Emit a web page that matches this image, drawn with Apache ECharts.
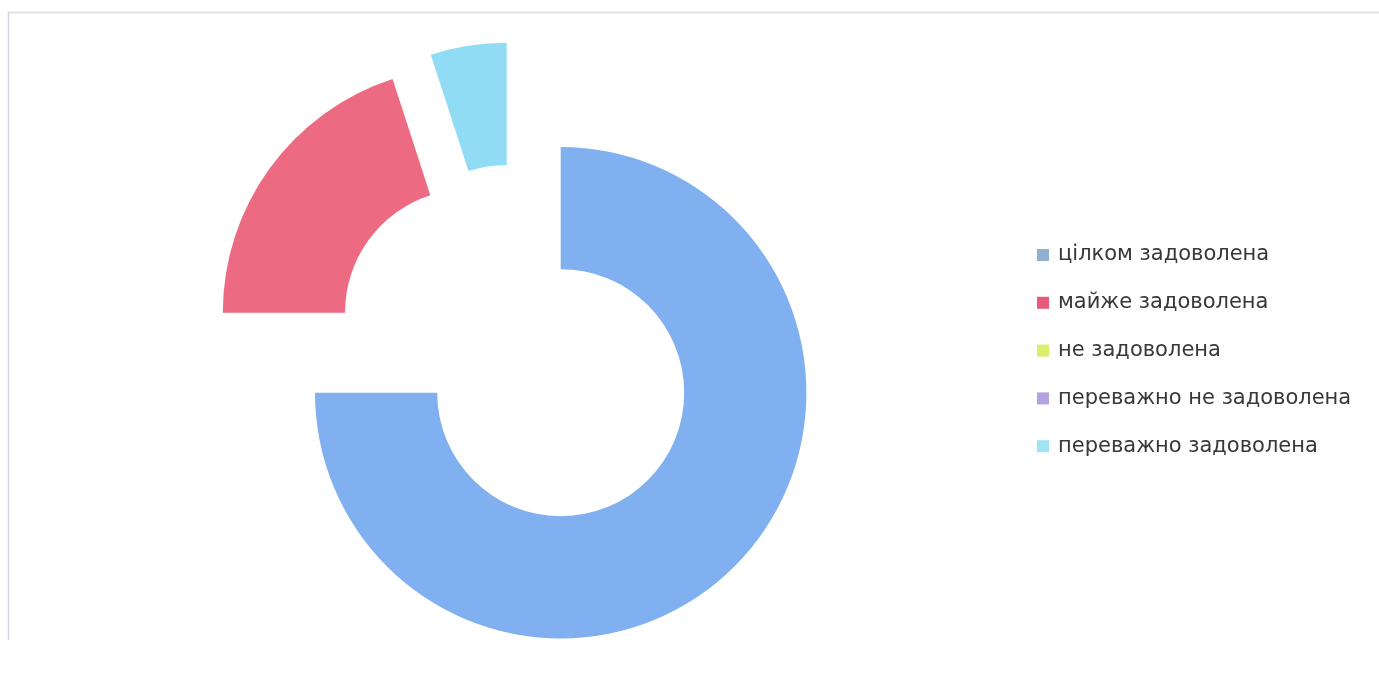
<!DOCTYPE html>
<html>
<head>
<meta charset="utf-8">
<script src="https://cdn.jsdelivr.net/npm/echarts@6/dist/echarts.min.js"></script>
<style>
  html, body { margin: 0; padding: 0; background: #ffffff; }
  #chart { width: 1379px; height: 681px; }
</style>
</head>
<body>
<div id="chart"></div>
<script>
// ---- data ----
const categories = ['цілком задоволена', 'майже задоволена', 'не задоволена', 'переважно не задоволена', 'переважно задоволена'];
const values = [75, 20, 0, 0, 5];

// ---- styles / layout ----
const sliceColors = ['#80b0f0', '#ec6a82', '#d8f06a', '#b4a2e2', '#90dcf4'];
const legendColors = ['#8fb0d0', '#e85a7a', '#d8f06a', '#b4a2e2', '#a0e4f4'];
const baseCenter = [560.7, 392.7];
const radius = [123.5, 245.7];
// explode offsets (px) for each drawn slice
const explode = { 0: [0, 0], 1: [-92.2, -80], 4: [-54, -104.3] };

const series = Object.keys(explode).map(function (k) {
  const own = +k;
  return {
    type: 'pie',
    center: [baseCenter[0] + explode[k][0], baseCenter[1] + explode[k][1]],
    radius: radius,
    startAngle: 90,
    clockwise: true,
    silent: true,
    animation: false,
    avoidLabelOverlap: false,
    label: { show: false },
    labelLine: { show: false },
    emphasis: { disabled: true },
    itemStyle: { borderWidth: 0 },
    data: categories.map(function (name, i) {
      return {
        name: name,
        value: values[i],
        itemStyle: { color: sliceColors[i], opacity: i === own ? 1 : 0 }
      };
    })
  };
});

const chart = echarts.init(document.getElementById('chart'), null, { renderer: 'canvas' });
chart.setOption({
  backgroundColor: '#ffffff',
  animation: false,
  legend: {
    orient: 'vertical',
    left: 1032,
    top: 238,
    itemWidth: 12,
    itemHeight: 12,
    itemGap: 23.8,
    icon: 'rect',
    selectedMode: false,
    textStyle: { fontFamily: 'DejaVu Sans', fontSize: 21, color: '#383838', lineHeight: 24, padding: [0, 0, 0, 4] },
    data: categories.map(function (name, i) {
      return { name: name, itemStyle: { color: legendColors[i], opacity: 1 } };
    })
  },
  graphic: [
    { type: 'line', shape: { x1: 8, y1: 12.5, x2: 1379, y2: 12.5 }, style: { stroke: '#e4e4e4', lineWidth: 2 }, silent: true },
    { type: 'line', shape: { x1: 8.5, y1: 12, x2: 8.5, y2: 640 }, style: { stroke: '#d6d0e2', lineWidth: 1.5 }, silent: true }
  ],
  series: series
});
</script>
</body>
</html>
